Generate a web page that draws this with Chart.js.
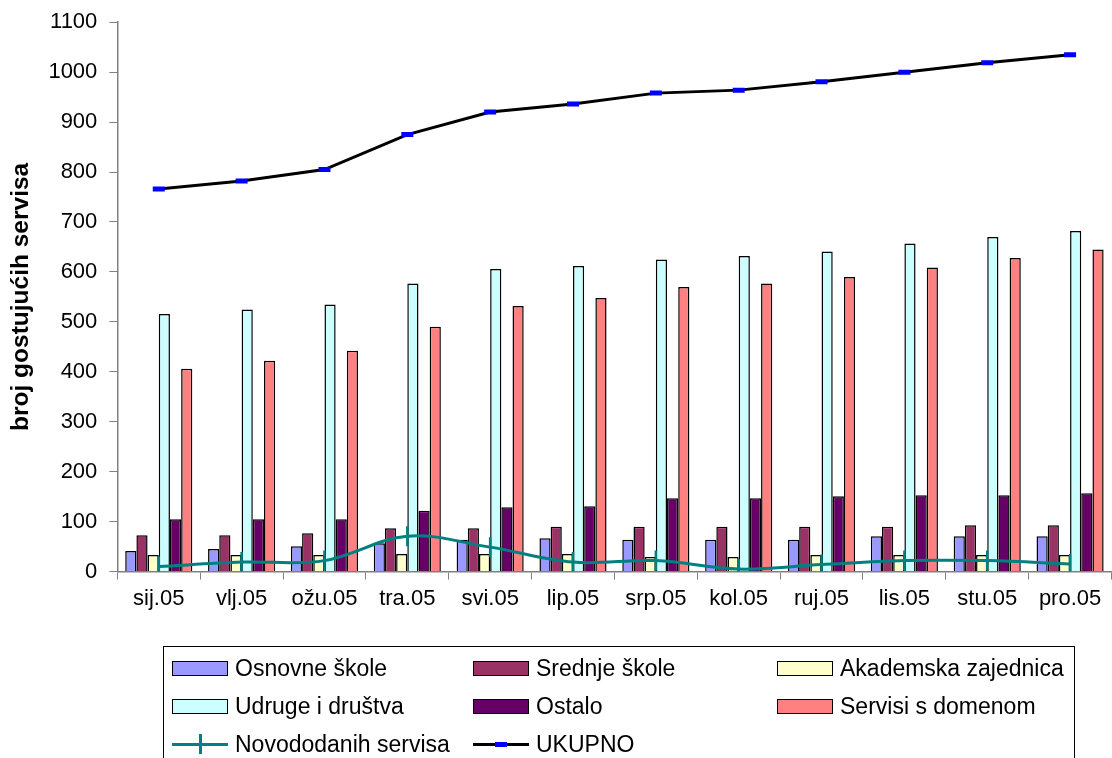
<!DOCTYPE html>
<html>
<head>
<meta charset="utf-8">
<script src="https://cdn.jsdelivr.net/npm/chart.js@4.4.1/dist/chart.umd.min.js"></script>
<style>
  html, body { margin: 0; padding: 0; background: #fff; }
  #wrap { position: relative; width: 1112px; height: 758px; overflow: hidden; }
  #myChart { position: absolute; left: 0; top: -3px; }
  #legend {
    position: absolute; left: 163px; top: 646px; width: 912px; height: 120px;
    border: 1.5px solid #000; box-sizing: border-box;
    display: grid; grid-template-columns: 301px 304px auto; grid-auto-rows: 38px;
    padding: 2px 0 0 8px;
    font-family: "Liberation Sans", Arial, sans-serif; font-size: 23px; color: #000;
  }
  .item { display: flex; align-items: center; }
  .sw { width: 56px; height: 15px; box-sizing: border-box; border: 1.5px solid #000; margin-right: 7px; position: relative; }
  .ln { border: none; height: 20px; }
  .ln::before { content: ""; position: absolute; left: 0; right: 0; top: 8.5px; height: 3px; background: var(--c); }
  .ln::after { content: ""; position: absolute; background: var(--m); }
  .cross::after { left: 27px; width: 3px; top: 0; height: 20px; }
  .dash::after { left: 22px; width: 12px; top: 7.5px; height: 5px; }
</style>
</head>
<body>
<div id="wrap">
  <canvas id="myChart" width="1124" height="761"></canvas>
  <div id="legend"></div>
</div>
<script>
// podaci ocitani s grafa
const mjeseci = ['sij.05','vlj.05','ožu.05','tra.05','svi.05','lip.05','srp.05','kol.05','ruj.05','lis.05','stu.05','pro.05'];
const osnovne = [41,45,51,57,64,67,64,64,64,71,71,71];
const srednje = [73,73,77,87,87,90,90,90,90,90,93,93];
const akademska = [33,33,33,35,35,35,29,29,33,33,33,33];
const udruge = [516,525,535,577,606,612,625,632,641,657,670,682];
const ostalo = [105,105,105,122,129,131,147,147,151,153,153,157];
const servisi = [406,422,442,490,532,548,570,577,590,609,628,645];
const novododanih = [10,19,22,71,49,19,22,5,14,22,22,15];
const ukupno = [766,782,805,875,920,936,958,964,981,1000,1019,1035];
const yTicks = [0,100,200,300,400,500,600,700,800,900,1000,1100];

const font = "'Liberation Sans', Arial, sans-serif";

function bar(label, data, color) {
    return {
        type: 'bar', label: label, data: data, backgroundColor: color,
        borderColor: '#000', borderWidth: 1.5, order: 1,
        categoryPercentage: 0.81, barPercentage: 1
    };
}

var datasets = [
    bar('Osnovne škole', osnovne, '#9999FF'),
    bar('Srednje škole', srednje, '#993366'),
    bar('Akademska zajednica', akademska, '#FFFFCC'),
    bar('Udruge i društva', udruge, '#CCFFFF'),
    bar('Ostalo', ostalo, '#660066'),
    bar('Servisi s domenom', servisi, '#FF8080'),
    {
        type: 'line', label: 'Novododanih servisa', data: novododanih,
        borderColor: '#008080', borderWidth: 3, tension: 0.35, order: 0,
        pointStyle: 'line', pointRotation: 90, pointRadius: 10,
        pointBorderColor: '#008080', pointBorderWidth: 2.5
    },
    {
        type: 'line', label: 'UKUPNO', data: ukupno,
        borderColor: '#000', borderWidth: 3, tension: 0, order: 0,
        pointStyle: 'line', pointRadius: 6,
        pointBorderColor: '#0000FF', pointBorderWidth: 5
    }
];

var ctx = document.getElementById('myChart').getContext('2d');
var myChart = new Chart(ctx, {
    data: { labels: mjeseci, datasets: datasets },
    options: {
        responsive: false,
        animation: false,
        layout: { padding: { left: 7, right: 0, top: 8, bottom: 140 } },
        plugins: { legend: { display: false }, tooltip: { enabled: false } },
        scales: {
            x: {
                grid: { display: true, drawOnChartArea: false, drawTicks: true, tickLength: 8, color: '#808080', offset: true },
                border: { display: true, color: '#808080', width: 1.5 },
                ticks: { color: '#000', font: { family: font, size: 22 }, padding: 6, maxRotation: 0 }
            },
            y: {
                min: 0, max: 1100,
                afterBuildTicks: function (axis) { axis.ticks = yTicks.map(v => ({ value: v })); },
                grid: { display: true, drawOnChartArea: false, drawTicks: true, tickLength: 8, color: '#808080' },
                border: { display: true, color: '#808080', width: 1.5 },
                ticks: { color: '#000', font: { family: font, size: 22 }, padding: 12,
                         callback: function (v) { return String(v); } },
                title: {
                    display: true, text: 'broj gostujućih servisa', color: '#000',
                    font: { family: font, size: 24.5, weight: 'bold' },
                    padding: { top: 0, bottom: 0 }
                }
            }
        }
    }
});

// legenda kao html
var legend = document.getElementById('legend');
myChart.data.datasets.forEach(function (ds) {
    var item = document.createElement('div');
    item.className = 'item';
    var sw = document.createElement('span');
    if (ds.type === 'bar') {
        sw.className = 'sw';
        sw.style.background = ds.backgroundColor;
    } else {
        sw.className = 'sw ln ' + (ds.pointRotation ? 'cross' : 'dash');
        sw.style.setProperty('--c', ds.borderColor);
        sw.style.setProperty('--m', ds.pointBorderColor);
    }
    item.appendChild(sw);
    item.appendChild(document.createTextNode(ds.label));
    legend.appendChild(item);
});
</script>
</body>
</html>
